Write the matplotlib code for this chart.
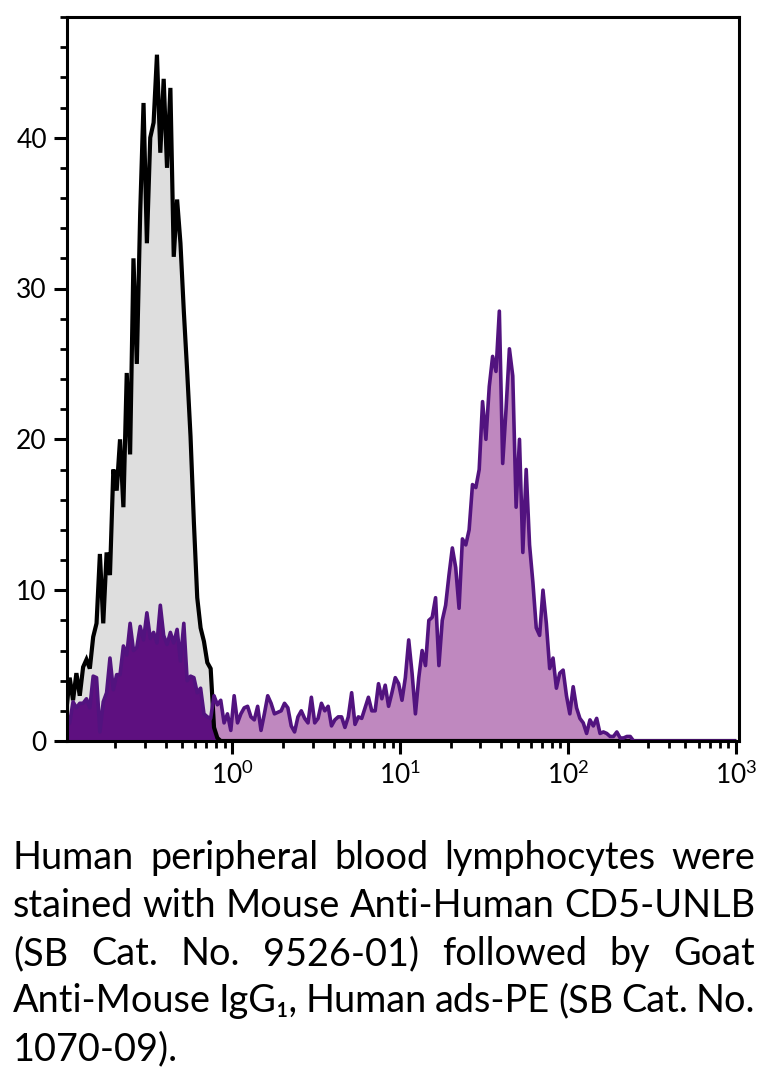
import numpy as np
import matplotlib
matplotlib.use("Agg")
import matplotlib.pyplot as plt
from matplotlib.ticker import LogLocator, MultipleLocator, NullFormatter, LogFormatterSciNotation

plt.rcParams['font.family'] = ['Lato', 'DejaVu Sans']

# histogram channels: 200 log-spaced bins from 10^-1 to 10^3
n_bins = 200
x_range = (-1, 3)

# unstained / control (grey, black outline), first channels
control_counts = [
    2.0, 4.2, 2.7, 4.5, 3.0, 4.9, 5.4, 4.8, 6.9, 7.8,
    12.4, 7.8, 12.5, 11.0, 18.0, 16.6, 20.0, 15.5, 24.4, 19.0,
    32.0, 25.0, 35.0, 42.3, 33.0, 40.0, 41.0, 45.5, 39.0, 43.9,
    38.0, 43.3, 32.1, 35.9, 33.0, 28.5, 24.5, 20.2, 14.5, 9.5,
    7.5, 6.6, 5.2, 4.8, 0.9, 0.2,
]

# CD5 stained (purple), first channels
cd5_counts = [
    1.0, 1.2, 2.6, 2.2, 2.5, 2.5, 2.8, 2.2, 4.3, 4.2,
    0.6, 2.6, 3.2, 5.5, 3.4, 4.4, 4.4, 6.3, 5.7, 7.8,
    6.0, 6.2, 7.6, 6.7, 8.5, 6.8, 7.2, 6.5, 9.0, 7.0,
    6.4, 7.2, 6.5, 7.4, 5.3, 7.8, 4.0, 4.3, 4.2, 3.2,
    3.5, 1.8, 1.6, 1.5, 3.0, 2.4, 2.7, 1.2, 1.8, 0.7,
    3.0, 1.2, 1.8, 2.2, 2.3, 1.6, 1.4, 2.3, 0.7, 1.8,
    3.0, 2.5, 1.8, 1.9, 2.0, 2.5, 2.2, 1.0, 0.6, 1.6,
    2.0, 1.5, 1.2, 2.9, 1.2, 1.5, 2.5, 2.0, 2.3, 1.0,
    1.4, 1.6, 1.6, 0.9, 1.6, 3.2, 1.1, 1.6, 1.5, 2.2,
    2.9, 2.0, 2.0, 3.8, 2.8, 3.7, 2.3, 3.2, 4.2, 3.8,
    2.7, 4.2, 6.7, 4.5, 1.8, 4.2, 6.0, 5.0, 8.0, 8.2,
    9.5, 5.0, 8.0, 9.0, 11.0, 12.8, 11.5, 8.8, 13.4, 13.0,
    14.0, 17.0, 16.8, 18.0, 22.5, 20.0, 23.5, 25.5, 24.5, 28.5,
    18.4, 22.0, 26.0, 24.2, 15.5, 20.0, 12.5, 18.0, 13.0, 10.5,
    7.5, 7.0, 10.0, 7.8, 4.8, 5.5, 3.5, 4.5, 4.7, 3.0,
    1.8, 3.6, 2.2, 1.5, 1.2, 0.5, 1.4, 1.0, 1.5, 0.5,
    0.6, 0.5, 0.3, 0.3, 0.6, 0.2, 0.2, 0.3, 0.3,
]

caption_lines = [
    "Human peripheral blood lymphocytes were",
    "stained with Mouse Anti-Human CD5-UNLB",
    "(SB Cat. No. 9526-01) followed by Goat",
    "Anti-Mouse IgG\u2081, Human ads-PE (SB Cat. No.",
    "1070-09).",
]

edges = np.logspace(x_range[0], x_range[1], n_bins + 1)
centers = np.sqrt(edges[:-1] * edges[1:])
grey = np.zeros(n_bins)
grey[:len(control_counts)] = control_counts
purple = np.zeros(n_bins)
purple[:len(cd5_counts)] = cd5_counts

W, H = 765, 1075
fig = plt.figure(figsize=(W / 100, H / 100), dpi=100)
ax = fig.add_axes([67 / W, 334 / H, 672 / W, 724 / H])

ax.fill_between(centers, 0, grey, color='#dedede', lw=0, zorder=1)
ax.fill_between(centers, 0, purple, color='#bf88bf', lw=0, zorder=1.2)
ax.fill_between(centers, 0, np.minimum(grey, purple), color='#5e1080', lw=0, zorder=1.3)
ax.plot(centers, grey, color='black', lw=3.0, zorder=1.5, solid_joinstyle='miter')
ax.plot(centers, purple, color='#52137f', lw=2.6, zorder=1.6)

ax.set_xscale('log')
ax.set_xlim(10 ** -0.986, 10 ** 3.018)
ax.set_ylim(0, 48)

ax.xaxis.set_major_locator(LogLocator(base=10, numticks=10))
ax.xaxis.set_major_formatter(LogFormatterSciNotation())
ax.xaxis.set_minor_locator(LogLocator(base=10, subs=np.arange(2, 10), numticks=20))
ax.xaxis.set_minor_formatter(NullFormatter())
ax.yaxis.set_major_locator(MultipleLocator(10))
ax.yaxis.set_minor_locator(MultipleLocator(2))

for s in ax.spines.values():
    s.set_linewidth(2.2)
ax.tick_params(which='major', length=9.5, width=2.2, labelsize=19, pad=5)
ax.tick_params(which='minor', length=5, width=2.0)

# justified caption
renderer = fig.canvas.get_renderer()
left_px, right_px = 13, 755
baselines = [869, 917, 965, 1012, 1060]

def text_width(s, fs):
    t = fig.text(0, 0, s, fontsize=fs)
    w = t.get_window_extent(renderer).width
    t.remove()
    return w

fs = 26
fs = fs * (right_px - left_px) / text_width(caption_lines[1], fs)

for line, base in zip(caption_lines, baselines):
    y = 1 - base / H
    words = line.split(' ')
    if line is caption_lines[-1]:
        fig.text(left_px / W, y, line, fontsize=fs, va='baseline', ha='left')
        continue
    widths = [text_width(w, fs) for w in words]
    gap = (right_px - left_px - sum(widths)) / (len(words) - 1)
    x = left_px
    for w, wd in zip(words, widths):
        fig.text(x / W, y, w, fontsize=fs, va='baseline', ha='left')
        x += wd + gap

fig.savefig('out.png', dpi=100)
